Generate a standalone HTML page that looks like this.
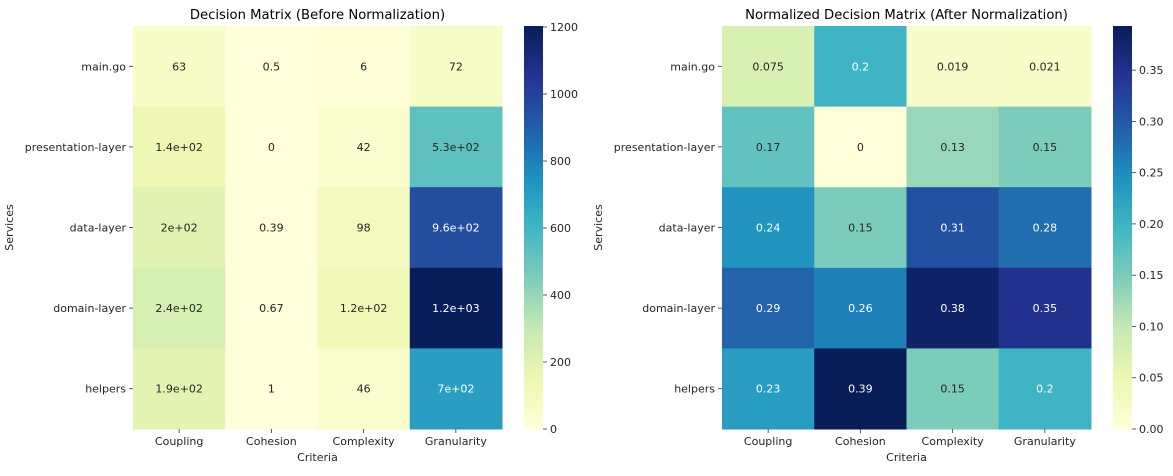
<!DOCTYPE html>
<html><head><meta charset="utf-8"><style>
body{margin:0;background:#fff;}
svg text{font-family:"DejaVu Sans","Liberation Sans",sans-serif;}
</style></head><body>
<svg id="svg" width="1173" height="471" xmlns="http://www.w3.org/2000/svg"></svg>
<script>
const services = ["main.go","presentation-layer","data-layer","domain-layer","helpers"];
const criteria = ["Coupling","Cohesion","Complexity","Granularity"];
const rawCoupling = [63,140,200,240,190];
const rawCohesion = [0.5,0,0.39,0.67,1];
const rawComplexity = [6,42,98,120,46];
const rawGranularity = [72,530,960,1203,700];
const rawLabels = [["63","0.5","6","72"],["1.4e+02","0","42","5.3e+02"],["2e+02","0.39","98","9.6e+02"],["2.4e+02","0.67","1.2e+02","1.2e+03"],["1.9e+02","1","46","7e+02"]];
const normCoupling = [0.075,0.17,0.24,0.29,0.23];
const normCohesion = [0.2,0,0.15,0.26,0.393];
const normComplexity = [0.019,0.13,0.31,0.38,0.15];
const normGranularity = [0.021,0.15,0.28,0.35,0.2];
const normLabels = [["0.075","0.2","0.019","0.021"],["0.17","0","0.13","0.15"],["0.24","0.15","0.31","0.28"],["0.29","0.26","0.38","0.35"],["0.23","0.39","0.15","0.2"]];
const rawTicks = [0,200,400,600,800,1000,1200];
const normTicks = [0,0.05,0.1,0.15,0.2,0.25,0.3,0.35];
const normTickLabels = ["0.00","0.05","0.10","0.15","0.20","0.25","0.30","0.35"];

const stops=["#ffffd9","#edf8b1","#c7e9b4","#7fcdbb","#41b6c4","#1d91c0","#225ea8","#253494","#081d58"].map(h=>[1,3,5].map(i=>parseInt(h.substr(i,2),16)));
function cmap(t){t=Math.max(0,Math.min(1,t));const p=t*8,i=Math.min(7,Math.floor(p)),f=p-i;return stops[i].map((v,k)=>v+(stops[i+1][k]-v)*f);}
function rgb(c){return `rgb(${c.map(Math.round).join(',')})`;}
function lum(c){const l=c.map(v=>{v/=255;return v<=0.03928?v/12.92:Math.pow((v+0.055)/1.055,2.4)});return 0.2126*l[0]+0.7152*l[1]+0.0722*l[2];}
const svg=document.getElementById('svg');
function el(tag,attrs,txt){const e=document.createElementNS('http://www.w3.org/2000/svg',tag);for(const k in attrs)e.setAttribute(k,attrs[k]);if(txt!=null)e.textContent=txt;svg.appendChild(e);return e;}

function heatmap(x0,cols,labels,title,cbX,ticks,tickLabels,prefix){
  const top=26,bottom=429,w=369,cw=w/4,rh=(bottom-top)/5;
  const vmax=Math.max(...cols.flat());
  const t=el('text',{x:x0+w/2,y:19,'text-anchor':'middle','font-size':13.2,fill:'#000'},title);
  
  for(let r=0;r<5;r++)for(let c=0;c<4;c++){
    const v=cols[c][r],col=cmap(v/vmax);
    const rc=el('rect',{x:x0+c*cw,y:top+r*rh,width:cw+0.5,height:rh+0.5,fill:rgb(col)});
    
    const tx=el('text',{x:x0+c*cw+cw/2,y:top+r*rh+rh/2+4,'text-anchor':'middle','font-size':11,fill:lum(col)<0.408?'#fff':'#262626'},labels[r][c]);
    
  }
  services.forEach((s,r)=>{const y=top+r*rh+rh/2;
    el('line',{x1:x0-4,x2:x0,y1:y,y2:y,stroke:'#333','stroke-width':0.8});
    const l=el('text',{x:x0-7,y:y+4,'text-anchor':'end','font-size':11,fill:'#262626'},s);
    });
  criteria.forEach((s,c)=>{const x=x0+c*cw+cw/2;
    el('line',{x1:x,x2:x,y1:bottom,y2:bottom+4,stroke:'#333','stroke-width':0.8});
    const l=el('text',{x:x,y:bottom+16,'text-anchor':'middle','font-size':11,fill:'#262626'},s);
    });
  const xl=el('text',{x:x0+w/2,y:bottom+32,'text-anchor':'middle','font-size':11,fill:'#262626'},'Criteria');
  
  const yl=el('text',{x:0,y:0,'text-anchor':'middle','font-size':11,fill:'#262626',transform:`translate(${x0-120},${(top+bottom)/2}) rotate(-90)`},'Services');
  
  const n=100,hh=(bottom-top)/n;
  for(let i=0;i<n;i++){const s=el('rect',{x:cbX,y:bottom-(i+1)*hh,width:19,height:hh+0.6,fill:rgb(cmap((i+0.5)/n))});
    }
  ticks.forEach((v,i)=>{const y=bottom-(v/vmax)*(bottom-top);
    el('line',{x1:cbX+19,x2:cbX+23,y1:y,y2:y,stroke:'#333','stroke-width':0.8});
    const l=el('text',{x:cbX+26,y:y+4,'font-size':11,fill:'#262626'},tickLabels[i]);
    });
}
heatmap(133,[rawCoupling,rawCohesion,rawComplexity,rawGranularity],rawLabels,'Decision Matrix (Before Normalization)',524,rawTicks,rawTicks.map(String),'raw');
heatmap(722,[normCoupling,normCohesion,normComplexity,normGranularity],normLabels,'Normalized Decision Matrix (After Normalization)',1113,normTicks,normTickLabels,'norm');
</script>
</body></html>
